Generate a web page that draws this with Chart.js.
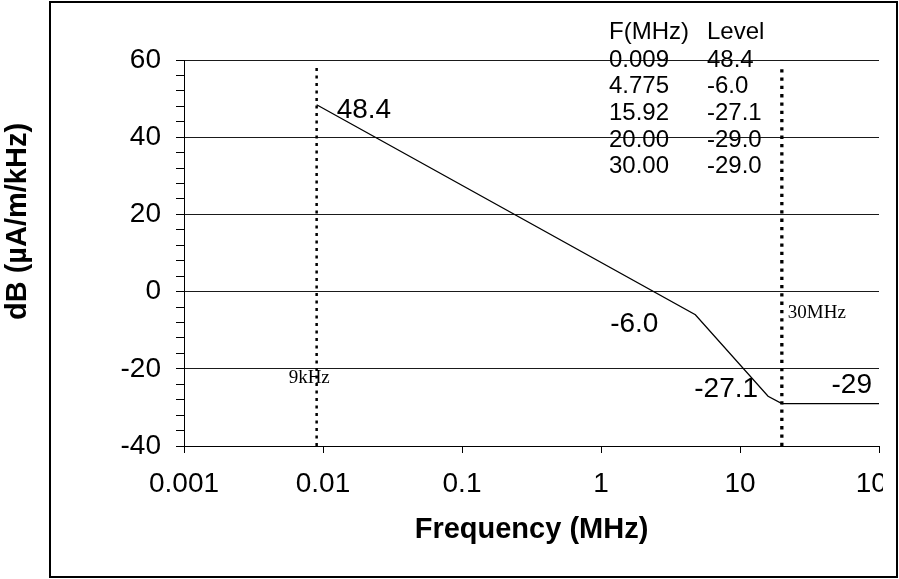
<!DOCTYPE html>
<html><head><meta charset="utf-8">
<script src="https://cdn.jsdelivr.net/npm/chart.js@4/dist/chart.umd.min.js"></script>
<style>html,body{margin:0;padding:0;background:#fff;overflow:hidden}#wrap{width:899px;height:579px}</style>
</head><body><div id="wrap"><canvas id="c" width="899" height="579"></canvas></div>
<script>
// ---- data ----
const freqMHz = [0.009, 4.775, 15.92, 20, 100];
const levelDb = [48.4, -6.0, -27.1, -29.0, -29.0];
const pointLabels = ['48.4', '-6.0', '-27.1', '', '-29'];
const tableHeader = ['F(MHz)', 'Level'];
const tableFreq = ['0.009', '4.775', '15.92', '20.00', '30.00'];
const tableLevel = ['48.4', '-6.0', '-27.1', '-29.0', '-29.0'];
const xTickValues = [0.001, 0.01, 0.1, 1, 10, 100];
const xTickLabels = ['0.001', '0.01', '0.1', '1', '10', '100'];
const yMajorTicks = [-40, -20, 0, 20, 40, 60];
const limitFreqs = [0.009, 20];
const limitNames = ['9kHz', '30MHz'];
const limitSpan = [-40, 58];
const xTitle = 'Frequency (MHz)';
const yTitle = 'dB (\u00B5A/m/kHz)';

// ---- styles ----
const SANS = "'Liberation Sans', Arial, Helvetica, sans-serif";
const SERIF = "'Liberation Serif', 'Times New Roman', serif";
Chart.defaults.font.family = SANS;
Chart.defaults.color = '#000';

const labelStyle = [
  {dx: 20, dy: 6, align: 'left'},
  {dx: -37, dy: 10, align: 'right'},
  {dx: -10, dy: -7, align: 'right'},
  null,
  {dx: -7, dy: -18, align: 'right'}
];
const limitLabelStyle = [
  {dx: -28, yVal: -20, dy: 9},
  {dx: 6, yVal: 0, dy: 21}
];

const deco = {
  id: 'deco',
  beforeDraw(chart) {
    const c = chart.ctx;
    c.save(); c.fillStyle = '#fff'; c.fillRect(0, 0, chart.width, chart.height); c.restore();
    c.save(); c.beginPath(); c.rect(0, 0, 883, chart.height); c.clip();
  },
  afterDatasetsDraw(chart) {
    const c = chart.ctx, xs = chart.scales.x, ys = chart.scales.y;
    c.save();
    c.fillStyle = '#000';
    c.textBaseline = 'middle';
    c.font = '28px ' + SANS;
    freqMHz.forEach((f, i) => {
      const st = labelStyle[i];
      if (!st || !pointLabels[i]) return;
      c.textAlign = st.align;
      c.fillText(pointLabels[i], xs.getPixelForValue(f) + st.dx, ys.getPixelForValue(levelDb[i]) + st.dy);
    });
    c.font = '19px ' + SERIF;
    c.textAlign = 'left';
    limitFreqs.forEach((f, i) => {
      const st = limitLabelStyle[i];
      c.fillText(limitNames[i], xs.getPixelForValue(f) + st.dx, ys.getPixelForValue(st.yVal) + st.dy);
    });
    c.font = '24px ' + SANS;
    c.fillText(tableHeader[0], 609, 32);
    c.fillText(tableHeader[1], 707, 32);
    tableFreq.forEach((t, i) => {
      const y = 60 + i * 26.7;
      c.fillText(t, 609, y);
      c.fillText(tableLevel[i], 707, y);
    });
    c.restore();
  },
  afterDraw(chart) {
    const c = chart.ctx;
    c.restore();
    c.save();
    c.strokeStyle = '#000'; c.lineWidth = 2;
    c.strokeRect(50, 2, 847, 575);
    c.translate(18, 221.5);
    c.rotate(-Math.PI / 2);
    c.fillStyle = '#000';
    c.font = 'bold 29px ' + SANS;
    c.textAlign = 'center'; c.textBaseline = 'middle';
    c.fillText(yTitle, 0, 0);
    c.restore();
  }
};

new Chart(document.getElementById('c'), {
  type: 'line',
  data: {
    datasets: [
      {data: freqMHz.map((f, i) => ({x: f, y: levelDb[i]})), borderColor: '#000', borderWidth: 1.3, pointRadius: 0, tension: 0, fill: false},
      {data: limitSpan.map(v => ({x: limitFreqs[0], y: v})), borderColor: '#000', borderWidth: 2.5, borderDash: [3, 4.5], pointRadius: 0, fill: false},
      {data: limitSpan.map(v => ({x: limitFreqs[1], y: v})), borderColor: '#000', borderWidth: 3.3, borderDash: [3.3, 5], pointRadius: 0, fill: false}
    ]
  },
  options: {
    responsive: false, animation: false, devicePixelRatio: 1,
    layout: {padding: {top: 60, right: 20, left: 0, bottom: 0}},
    plugins: {legend: {display: false}, tooltip: {enabled: false}},
    scales: {
      x: {
        type: 'logarithmic', min: 0.001, max: 100,
        afterBuildTicks: s => { s.ticks = xTickValues.map(v => ({value: v})); },
        afterFit: s => { s.height = 133; s.paddingLeft = 0; s.paddingRight = 0; },
        ticks: {autoSkip: false, maxRotation: 0, minRotation: 0, padding: 14, font: {size: 28}, color: '#000',
                callback: (v, i) => xTickLabels[i]},
        grid: {drawOnChartArea: false, drawTicks: true, tickLength: 7, tickColor: '#000', color: '#000'},
        border: {display: true, color: '#000', width: 1},
        title: {display: true, text: xTitle, font: {size: 29, weight: 'bold'}, color: '#000', padding: {top: 0, bottom: 32}}
      },
      y: {
        min: -40, max: 60,
        afterFit: s => { s.width = 184; s.paddingTop = 0; s.paddingBottom = 0; },
        ticks: {stepSize: 4, autoSkip: false, maxTicksLimit: 100, padding: 15, font: {size: 28}, color: '#000',
                callback: v => yMajorTicks.includes(v) ? String(v) : ''},
        grid: {color: ctx => (ctx.tick && yMajorTicks.includes(ctx.tick.value)) ? '#1a1a1a' : 'rgba(0,0,0,0)',
               tickColor: '#000', tickLength: 8, lineWidth: 1},
        border: {display: true, color: '#000', width: 1}
      }
    }
  },
  plugins: [deco]
});
</script>
</body></html>
